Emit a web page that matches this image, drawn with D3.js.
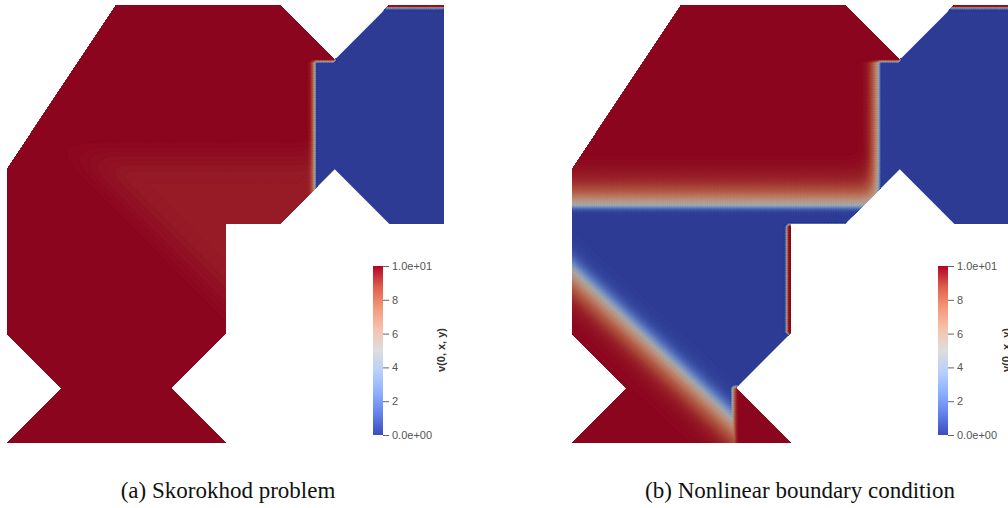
<!DOCTYPE html>
<html>
<head>
<meta charset="utf-8">
<script src="https://cdn.jsdelivr.net/npm/d3@7"></script>
<style>
  body { margin: 0; background: #fff; }
  svg { display: block; }
  .cb text { font-family: "Liberation Sans", Arial, sans-serif; font-size: 11px; fill: #555; }
  .cb line { stroke: #666; }
</style>
</head>
<body>
<script>
// domain polygon (units, x right / y down), same for both panels
const domainU = [2, 5, 6, 7, 8, 8, 7, 6, 5, 4, 4, 3, 4, 0, 1, 0, 0];
const domainW = [0, 0, 1, 0, 0, 4, 4, 3, 4, 4, 6, 7, 8, 8, 7, 6, 3];

// colour bar
const tickValues = [0, 2, 4, 6, 8, 10];
const tickLabels = ['0.0e+00', '2', '4', '6', '8', '1.0e+01'];
const colorVals = [0, 1.25, 2.5, 3.75, 5, 6.25, 7.5, 8.75, 10];
const colorHex = ['#3b4cc0', '#6282ea', '#8db0fe', '#b8d0f9', '#dddddd', '#f5c4ad', '#f49a7b', '#de604d', '#b40426'];
const barTitle = 'v(0, x, y)';
const captions = ['(a) Skorokhod problem', '(b) Nonlinear boundary condition'];

// fronts (units)
const neckFrontU = [5.63, 5.61];   // vertical red/blue interface, a and b
const neckTopW = 1.02;             // top of the blue neck
const rightTopW = 0.04;            // thin red strip on the top edge, right part
const lightDiagA = 2.0;            // (a) lighter patch: below-left edge  u - w = -2.0
const lightTopA = 2.35;            // (a) lighter patch: top edge
const lightDepthA = 0.4;
const shelfW = 3.65;               // (b) horizontal front
const diagW0 = 4.84, diagSlope = 0.93; // (b) diagonal front  w = w0 + slope*u
const notchFrontU = 2.95;          // (b) vertical front in the bottom triangle
const stripU = 3.94;               // (b) thin red strip along u = 4

const panelX = [7, 572];
const unitW = 437, topY = 5, unitH = 438;

const svg = d3.select('body').append('svg').attr('width', 1008).attr('height', 508);

const color = d3.scaleLinear().domain(colorVals).range(colorHex).clamp(true);
const shade = v => d3.rgb(color(v)).darker(0.73);

function ramp(d, a, b) {
  return d < 0 ? 0.5 - 0.5 * Math.tanh(-d / a) : 0.5 + 0.5 * Math.tanh(d / b);
}
function sstep(t) { t = Math.max(0, Math.min(1, t)); return t * t * (3 - 2 * t); }

function neckMix(u, w, front, wa) {
  return ramp(u - front, wa, 0.015) * (u > 6 ? 1 : ramp(w - neckTopW, 0.012, 0.012));
}
const rightVal = w => 10 * (1 - ramp(w - rightTopW, 0.012, 0.025));

function fieldA(u, w) {
  const a = sstep((u - w + lightDiagA) / 1.3);
  const b = sstep((w - lightTopA) / 0.9);
  const light = Math.pow(a * b, 0.8);
  const vl = 10 - lightDepthA * light;
  const m = neckMix(u, w, neckFrontU[0], 0.06);
  return vl * (1 - m) + rightVal(w) * m;
}

function fieldB(u, w) {
  const upper = 1 - ramp(w - shelfW, 0.28, 0.08);
  const soft = 1 - 0.04 * sstep((w - 2.6) / 0.8);
  const dd = (w - (diagW0 + diagSlope * u)) / Math.hypot(1, diagSlope);
  const diag = ramp(dd, 0.2, 0.32);
  const tri = ramp(u - notchFrontU, 0.025, 0.05) * ramp(w - 6.98, 0.01, 0.01);
  const strip = ramp(u - stripU, 0.02, 0.02) * ramp(w - 4.02, 0.01, 0.01) * (1 - ramp(w - 6.0, 0.01, 0.01));
  const vl = 10 * Math.max(upper * soft, diag, tri, strip);
  const m = neckMix(u, w, neckFrontU[1], 0.14);
  return vl * (1 - m) + rightVal(w) * m;
}

const fields = [fieldA, fieldB];
const n = 240;
const thresholds = d3.range(0, 10, 0.05);

fields.forEach((field, p) => {
  const x = d3.scaleLinear().domain([0, 8]).range([panelX[p], panelX[p] + unitW]);
  const y = d3.scaleLinear().domain([0, 8]).range([topY, topY + unitH]);

  const pts = domainU.map((u, i) => [u, domainW[i]]);
  const outline = d3.line().x(d => x(d[0])).y(d => y(d[1]));
  svg.append('clipPath').attr('id', 'dom' + p)
    .append('path').attr('d', outline(pts) + 'Z');

  const values = new Float64Array(n * n);
  for (let j = 0; j < n; j++) {
    for (let i = 0; i < n; i++) {
      values[j * n + i] = field((i + 0.5) * 8 / n, (j + 0.5) * 8 / n);
    }
  }
  const bands = d3.contours().size([n, n]).thresholds(thresholds)(values);
  const proj = d3.geoTransform({
    point(px, py) { this.stream.point(x(px * 8 / n), y(py * 8 / n)); }
  });
  const path = d3.geoPath(proj);

  svg.append('g').attr('clip-path', 'url(#dom' + p + ')')
    .selectAll('path').data(bands).join('path')
    .attr('d', path)
    .attr('fill', d => shade(d.value + 0.025))
    .attr('stroke', d => shade(d.value + 0.025))
    .attr('stroke-width', 0.3);

  // colour bar
  const off = panelX[p] - panelX[0];
  const gid = 'grad' + p;
  const grad = svg.append('defs').append('linearGradient').attr('id', gid)
    .attr('x1', 0).attr('y1', 1).attr('x2', 0).attr('y2', 0);
  grad.selectAll('stop').data(colorVals).join('stop')
    .attr('offset', d => d / 10)
    .attr('stop-color', (d, i) => colorHex[i]);

  const cb = d3.scaleLinear().domain([0, 10]).range([435, 266]);
  svg.append('rect')
    .attr('x', 373 + off).attr('y', cb(10))
    .attr('width', 10).attr('height', cb(0) - cb(10))
    .attr('fill', 'url(#' + gid + ')');

  const axis = d3.axisRight(cb).tickValues(tickValues)
    .tickFormat((d, i) => tickLabels[i]).tickSize(6).tickPadding(3);
  svg.append('g').attr('class', 'cb')
    .attr('transform', 'translate(' + (383 + off) + ',0)')
    .call(axis)
    .call(g => g.select('.domain').remove());

  svg.append('text')
    .attr('transform', 'translate(' + (441 + off) + ',350) rotate(-90)')
    .attr('text-anchor', 'middle').attr('dy', '0.35em')
    .style('font-family', '"Liberation Sans", Arial, sans-serif')
    .style('font-size', '11px').style('font-weight', 'bold').style('fill', '#333')
    .text(barTitle);

  svg.append('text')
    .attr('x', [228, 800][p]).attr('y', 498)
    .attr('text-anchor', 'middle')
    .style('font-family', '"Liberation Serif", Tinos, "Times New Roman", Times, serif')
    .style('font-size', '23px').style('fill', '#111')
    .text(captions[p]);
});
</script>
</body>
</html>
